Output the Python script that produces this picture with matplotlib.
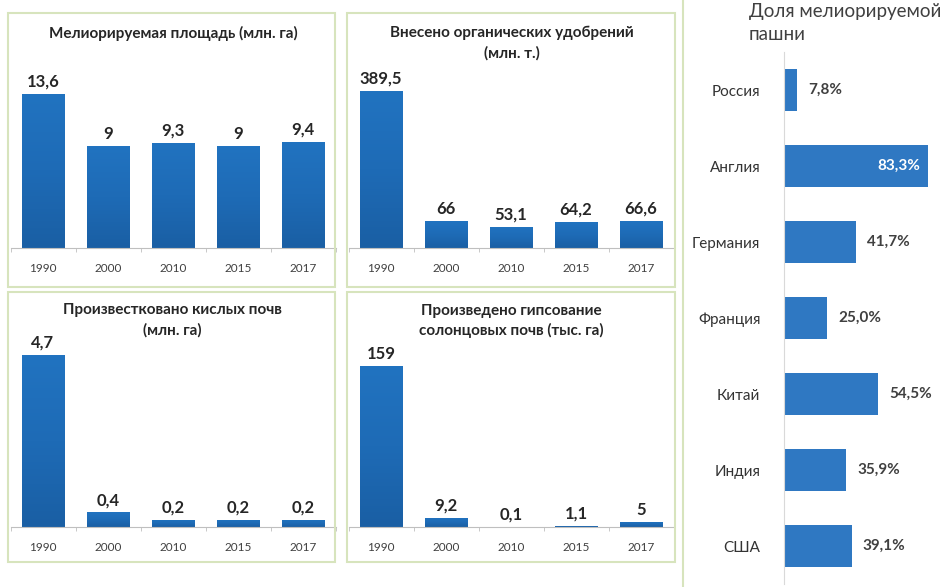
import numpy as np
import matplotlib.pyplot as plt
from matplotlib.patches import Rectangle
from matplotlib.colors import LinearSegmentedColormap

plt.rcParams['font.family'] = ['Lato', 'DejaVu Sans']

### ============= ### ###  Dados  ### ###  ============= ###

years = ["1990", "2000", "2010", "2015", "2017"]
area = [13.6, 9, 9.3, 9, 9.4]
organic = [389.5, 66, 53.1, 64.2, 66.6]
lime = [4.7, 0.4, 0.2, 0.2, 0.2]
gypsum = [159, 9.2, 0.1, 1.1, 5]

countries = ["Россия", "Англия", "Германия", "Франция", "Китай", "Индия", "США"]
share = [7.8, 83.3, 41.7, 25.0, 54.5, 35.9, 39.1]

W, H = 951, 587
HBAR = "#2f78c2"
BORDER = "#d7e4bd"
TXT = "#262626"
grad = LinearSegmentedColormap.from_list("g", ["#1a5fa4", "#1e6bb6", "#2173c0"])


def box(x0, y0, x1, y1):
    """pixel box (top-left origin) -> figure coords"""
    return [x0 / W, 1 - y1 / H, (x1 - x0) / W, (y1 - y0) / H]


def fmt(v):
    return f"{v:g}".replace(".", ",")


fig = plt.figure(figsize=(W / 100, H / 100), dpi=100)

# painel: valores, titulo, eixo (px), ymax, linhas de titulo (y px), centro x, borda
paineis = [
    (area, ["Мелиорируемая площадь (млн. га)"], (10.5, 60, 335.5, 248), 16.6, [33], 173, (8, 13, 335, 287)),
    (organic, ["Внесено органических удобрений", "(млн. т.)"], (348.5, 60, 673.5, 248), 466.5, [33, 53], 512, (347, 13, 675, 287)),
    (lime, ["Произвестковано кислых почв", "(млн. га)"], (10.5, 340, 335.5, 527), 5.11, [310, 330], 172, (8, 292, 335, 562)),
    (gypsum, ["Произведено гипсование", "солонцовых почв (тыс. га)"], (348.5, 340, 673.5, 527), 184.6, [311, 330], 511, (347, 292, 675, 562)),
]

for vals, linhas, eixo, ymax, ys, cx, borda in paineis:
    bx0, by0, bx1, by1 = borda
    fig.patches.append(Rectangle((bx0 / W, 1 - by1 / H), (bx1 - bx0) / W, (by1 - by0) / H,
                                 transform=fig.transFigure, fill=False,
                                 edgecolor=BORDER, lw=1.5))
    ax = fig.add_axes(box(*eixo))
    x = np.arange(len(vals))
    barras = ax.bar(x, vals, width=0.65, color="#1e6bb6", edgecolor="#1a5fa3", lw=0.5)
    # gradiente vertical em cada barra
    for b in barras:
        bx, bw, bh = b.get_x(), b.get_width(), b.get_height()
        img = ax.imshow(np.linspace(0, 1, 64).reshape(-1, 1), cmap=grad, origin="lower",
                        extent=[bx, bx + bw, 0, bh], aspect="auto", zorder=b.get_zorder())
        img.set_clip_path(b)
    for xi, v in zip(x, vals):
        ax.annotate(fmt(v), (xi, v), xytext=(0, 3), textcoords="offset points",
                    ha="center", va="bottom", fontsize=12, fontweight="bold",
                    color=TXT)
    ax.set_xlim(-0.5, len(vals) - 0.5)
    ax.set_ylim(0, ymax)
    ax.set_xticks(x)
    ax.set_xticklabels(years, fontsize=8.5, color="#404040")
    ax.set_xticks(np.arange(-0.5, len(vals)), minor=True)
    ax.tick_params(axis="x", which="major", length=0, pad=11)
    ax.tick_params(axis="x", which="minor", length=3, color="#bfbfbf")
    ax.set_yticks([])
    for s in ["top", "right", "left"]:
        ax.spines[s].set_visible(False)
    ax.spines["bottom"].set_color("#bfbfbf")
    for ly, texto in zip(ys, linhas):
        fig.text(cx / W, 1 - ly / H, texto, ha="center", va="center",
                 fontsize=11, fontweight="bold", color=TXT)

### ============= ### ###  Painel direito  ### ###  ============= ###

fig.add_artist(plt.Line2D([683 / W, 683 / W], [0, 1], transform=fig.transFigure,
                          color=BORDER, lw=1.5))

axr = fig.add_axes(box(784, 52, 951, 584))
y = np.arange(len(countries))
axr.barh(y, share, height=0.55, color=HBAR)
axr.set_ylim(len(countries) - 0.5, -0.5)
axr.set_xlim(0, 96.5)
axr.set_yticks(y)
axr.set_yticklabels(countries, fontsize=11, color="#333333")
axr.tick_params(axis="y", length=0, pad=17)
axr.set_xticks([])
for s in ["top", "right", "bottom"]:
    axr.spines[s].set_visible(False)
axr.spines["left"].set_color("#d9d9d9")

for yi, v in zip(y, share):
    rotulo = f"{v:.1f}%".replace(".", ",")
    if v > 70:
        axr.annotate(rotulo, (v, yi), xytext=(-6, 0), textcoords="offset points",
                     ha="right", va="center", fontsize=11, fontweight="bold",
                     color="white")
    else:
        axr.annotate(rotulo, (v, yi), xytext=(8, 0), textcoords="offset points",
                     ha="left", va="center", fontsize=11, fontweight="bold",
                     color="#404040")

fig.text(749 / W, 1 - 12 / H, "Доля мелиорируемой", ha="left", va="center",
         fontsize=13.5, color="#404040")
fig.text(749 / W, 1 - 35 / H, "пашни", ha="left", va="center",
         fontsize=13.5, color="#404040")

fig.savefig("out.png", dpi=100)
